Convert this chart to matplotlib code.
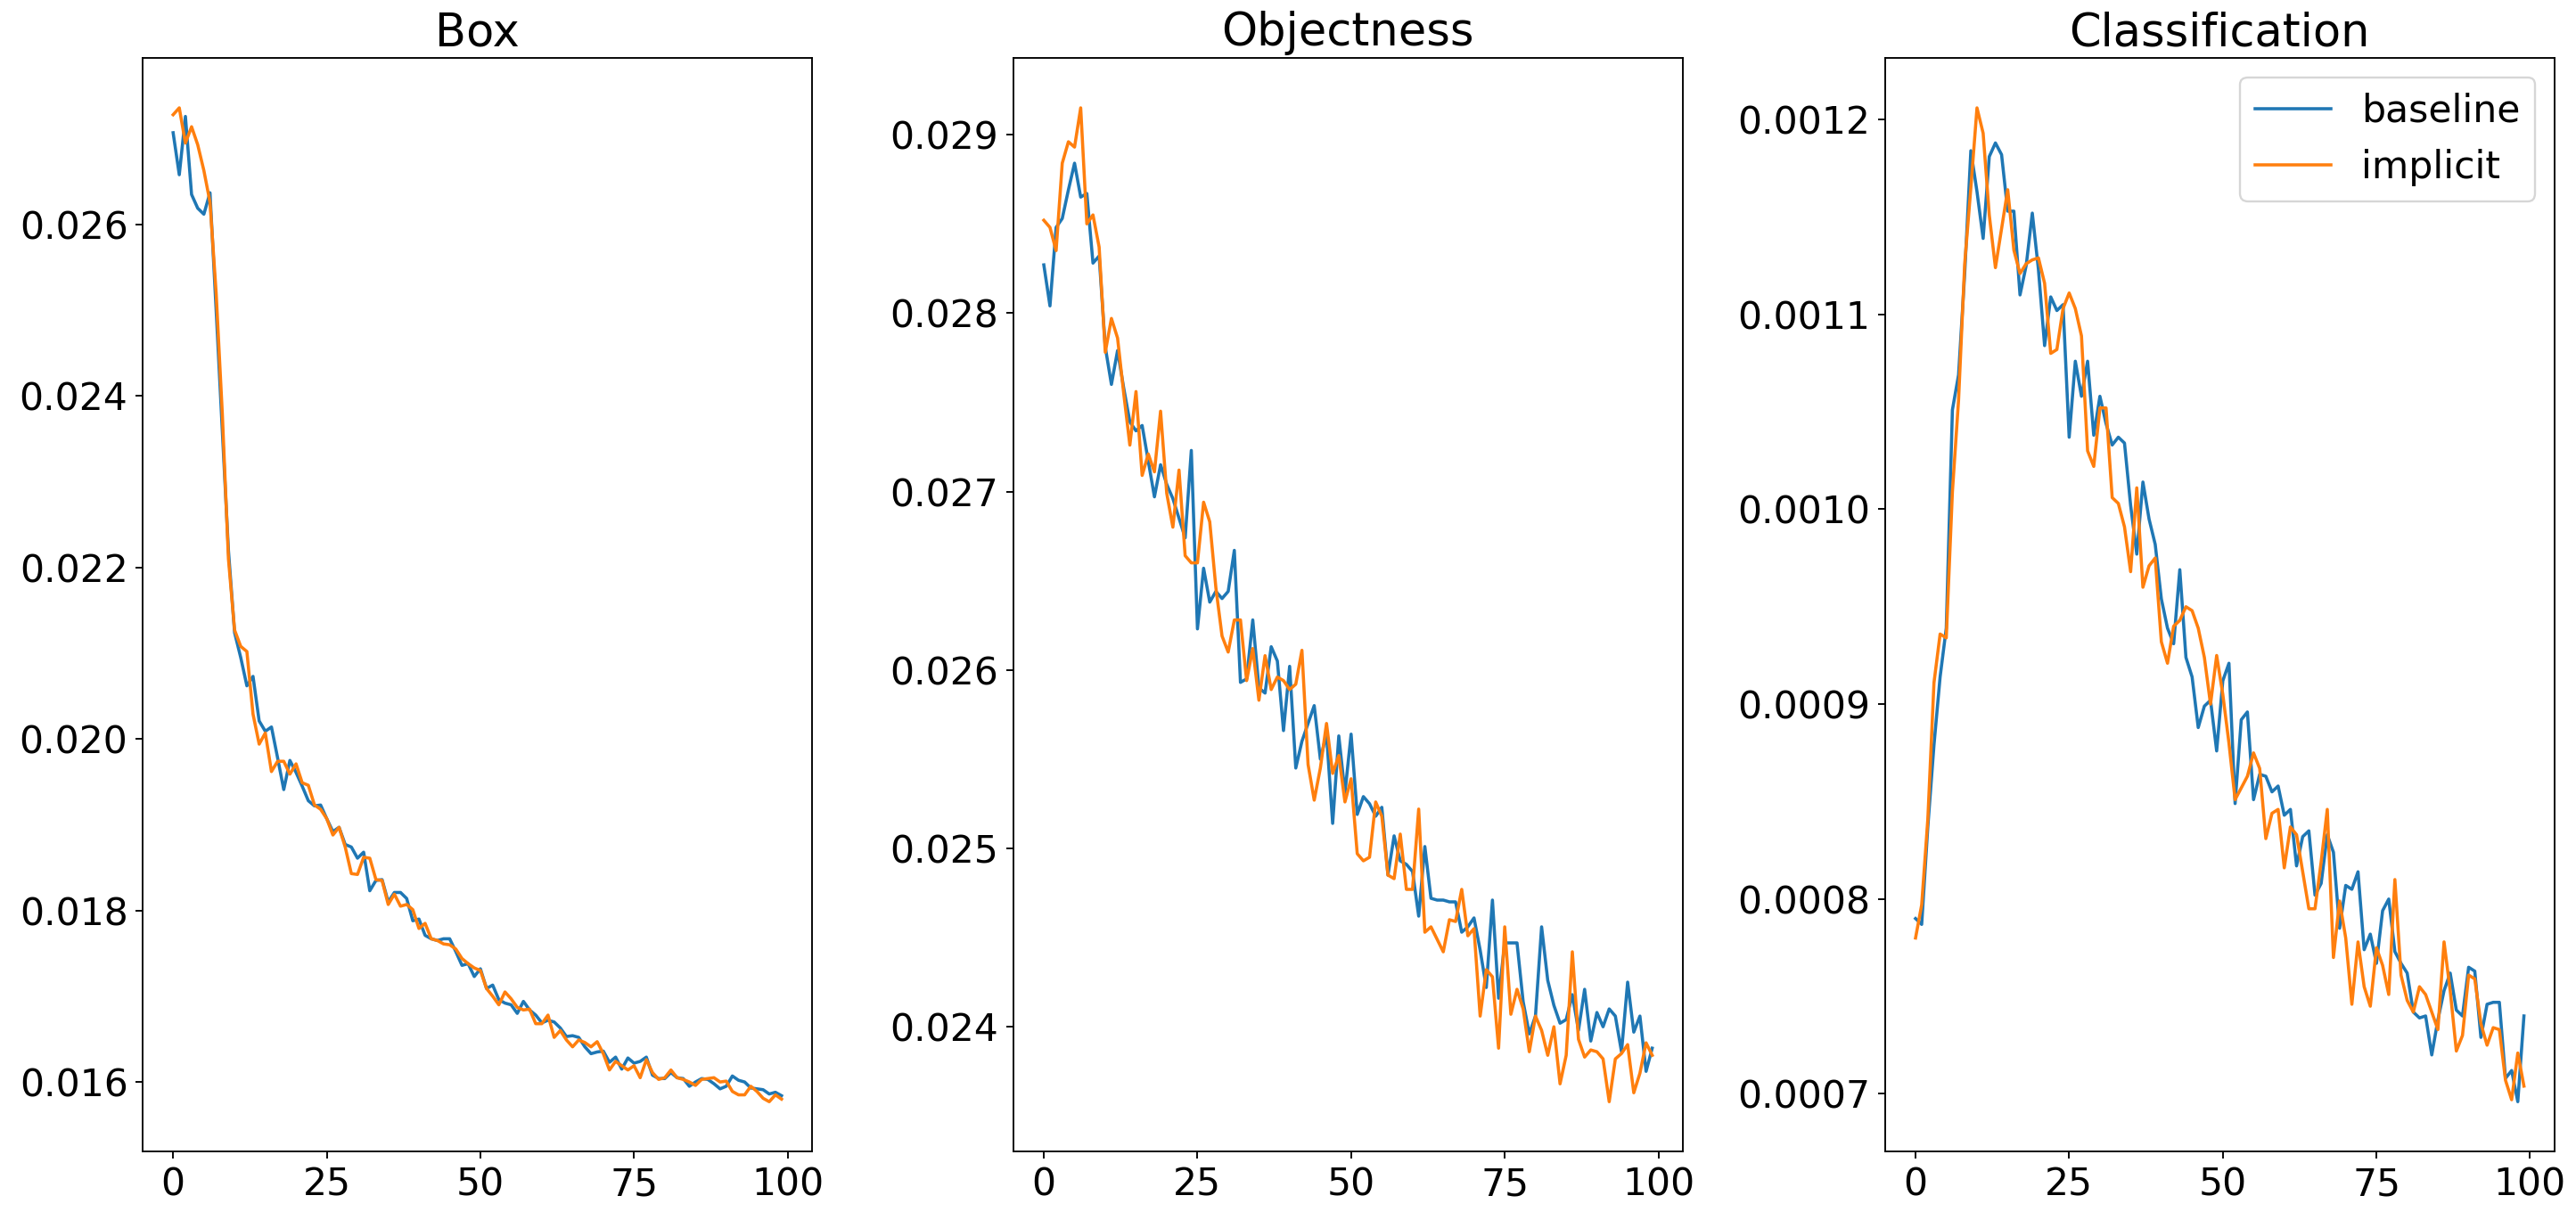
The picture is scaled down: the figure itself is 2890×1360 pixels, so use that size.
import numpy as np
import matplotlib
matplotlib.use("Agg")
import matplotlib.pyplot as plt

epochs = list(range(100))
titles = ["Box", "Objectness", "Classification"]
labels = ["baseline", "implicit"]

box_baseline = [
    0.02707, 0.02658, 0.02726, 0.02635, 0.02619, 0.02612, 0.02637, 0.02500, 0.02360, 0.02220,
    0.02124, 0.02095, 0.02062, 0.02073, 0.02021, 0.02009, 0.02014, 0.01978, 0.01941, 0.01975,
    0.01961, 0.01945, 0.01928, 0.01922, 0.01923, 0.01907, 0.01892, 0.01897, 0.01877, 0.01874,
    0.01861, 0.01868, 0.01823, 0.01835, 0.01836, 0.01810, 0.01821, 0.01821, 0.01814, 0.01788,
    0.01790, 0.01771, 0.01767, 0.01765, 0.01767, 0.01767, 0.01752, 0.01736, 0.01738, 0.01723,
    0.01732, 0.01709, 0.01713, 0.01696, 0.01692, 0.01690, 0.01680, 0.01694, 0.01684, 0.01678,
    0.01669, 0.01672, 0.01670, 0.01663, 0.01653, 0.01654, 0.01652, 0.01641, 0.01633, 0.01635,
    0.01636, 0.01623, 0.01629, 0.01615, 0.01628, 0.01622, 0.01624, 0.01629, 0.01608, 0.01604,
    0.01604, 0.01611, 0.01605, 0.01604, 0.01595, 0.01600, 0.01604, 0.01603, 0.01598, 0.01592,
    0.01595, 0.01607, 0.01602, 0.01600, 0.01593, 0.01592, 0.01591, 0.01586, 0.01588, 0.01584,
]
box_implicit = [
    0.02728, 0.02736, 0.02695, 0.02714, 0.02693, 0.02663, 0.02626, 0.02520, 0.02380, 0.02210,
    0.02127, 0.02108, 0.02102, 0.02029, 0.01994, 0.02007, 0.01962, 0.01974, 0.01974, 0.01959,
    0.01971, 0.01949, 0.01946, 0.01923, 0.01918, 0.01907, 0.01888, 0.01897, 0.01874, 0.01843,
    0.01842, 0.01862, 0.01861, 0.01836, 0.01835, 0.01807, 0.01819, 0.01805, 0.01807, 0.01801,
    0.01779, 0.01785, 0.01767, 0.01765, 0.01761, 0.01760, 0.01755, 0.01744, 0.01738, 0.01733,
    0.01730, 0.01709, 0.01700, 0.01690, 0.01705, 0.01697, 0.01687, 0.01684, 0.01685, 0.01668,
    0.01668, 0.01678, 0.01652, 0.01660, 0.01649, 0.01641, 0.01649, 0.01646, 0.01641, 0.01647,
    0.01633, 0.01614, 0.01624, 0.01619, 0.01614, 0.01619, 0.01605, 0.01626, 0.01611, 0.01603,
    0.01605, 0.01614, 0.01605, 0.01603, 0.01600, 0.01596, 0.01603, 0.01604, 0.01605, 0.01600,
    0.01601, 0.01589, 0.01585, 0.01585, 0.01595, 0.01589, 0.01581, 0.01577, 0.01585, 0.01580,
]

obj_baseline = [
    0.02827, 0.02804, 0.02848, 0.02853, 0.02869, 0.02884, 0.02865, 0.02867, 0.02828, 0.02832,
    0.02781, 0.02760, 0.02779, 0.02758, 0.02739, 0.02734, 0.02737, 0.02717, 0.02697, 0.02715,
    0.02704, 0.02696, 0.02685, 0.02674, 0.02723, 0.02623, 0.02657, 0.02638, 0.02644, 0.02640,
    0.02644, 0.02667, 0.02593, 0.02595, 0.02628, 0.02590, 0.02587, 0.02613, 0.02605, 0.02566,
    0.02602, 0.02545, 0.02560, 0.02570, 0.02580, 0.02550, 0.02564, 0.02514, 0.02563, 0.02531,
    0.02564, 0.02519, 0.02529, 0.02525, 0.02518, 0.02523, 0.02485, 0.02507, 0.02493, 0.02491,
    0.02487, 0.02462, 0.02501, 0.02472, 0.02471, 0.02471, 0.02470, 0.02470, 0.02453, 0.02456,
    0.02461, 0.02443, 0.02422, 0.02471, 0.02416, 0.02447, 0.02447, 0.02447, 0.02414, 0.02396,
    0.02406, 0.02456, 0.02426, 0.02412, 0.02402, 0.02404, 0.02418, 0.02398, 0.02421, 0.02392,
    0.02408, 0.02400, 0.02410, 0.02406, 0.02386, 0.02425, 0.02397, 0.02406, 0.02375, 0.02388,
]
obj_implicit = [
    0.02852, 0.02848, 0.02835, 0.02884, 0.02896, 0.02893, 0.02915, 0.02850, 0.02855, 0.02837,
    0.02778, 0.02797, 0.02786, 0.02755, 0.02726, 0.02756, 0.02709, 0.02721, 0.02711, 0.02745,
    0.02699, 0.02680, 0.02712, 0.02664, 0.02660, 0.02660, 0.02694, 0.02683, 0.02646, 0.02619,
    0.02610, 0.02628, 0.02628, 0.02594, 0.02612, 0.02583, 0.02608, 0.02589, 0.02596, 0.02594,
    0.02589, 0.02592, 0.02611, 0.02547, 0.02527, 0.02545, 0.02570, 0.02542, 0.02552, 0.02526,
    0.02539, 0.02497, 0.02493, 0.02495, 0.02526, 0.02518, 0.02485, 0.02483, 0.02508, 0.02477,
    0.02477, 0.02522, 0.02453, 0.02456, 0.02449, 0.02442, 0.02460, 0.02459, 0.02477, 0.02451,
    0.02455, 0.02406, 0.02432, 0.02428, 0.02388, 0.02456, 0.02407, 0.02421, 0.02410, 0.02386,
    0.02406, 0.02398, 0.02384, 0.02400, 0.02368, 0.02384, 0.02442, 0.02393, 0.02383, 0.02387,
    0.02386, 0.02382, 0.02358, 0.02382, 0.02385, 0.02390, 0.02363, 0.02374, 0.02391, 0.02384,
]

cls_baseline = [
    0.000790, 0.000787, 0.000837, 0.000879, 0.000914, 0.000939, 0.001051, 0.001069, 0.001121, 0.001184,
    0.001163, 0.001139, 0.001181, 0.001188, 0.001182, 0.001153, 0.001153, 0.001110, 0.001125, 0.001152,
    0.001123, 0.001084, 0.001109, 0.001102, 0.001105, 0.001037, 0.001076, 0.001058, 0.001076, 0.001038,
    0.001058, 0.001044, 0.001033, 0.001037, 0.001034, 0.001002, 0.000977, 0.001014, 0.000995, 0.000982,
    0.000954, 0.000939, 0.000931, 0.000969, 0.000924, 0.000914, 0.000888, 0.000899, 0.000902, 0.000876,
    0.000912, 0.000921, 0.000849, 0.000892, 0.000896, 0.000851, 0.000864, 0.000863, 0.000855, 0.000858,
    0.000843, 0.000846, 0.000817, 0.000832, 0.000835, 0.000802, 0.000808, 0.000833, 0.000824, 0.000785,
    0.000807, 0.000805, 0.000814, 0.000774, 0.000782, 0.000767, 0.000794, 0.000800, 0.000773, 0.000767,
    0.000762, 0.000742, 0.000739, 0.000740, 0.000720, 0.000738, 0.000753, 0.000762, 0.000743, 0.000740,
    0.000765, 0.000763, 0.000729, 0.000746, 0.000747, 0.000747, 0.000708, 0.000712, 0.000696, 0.000740,
]
cls_implicit = [
    0.000780, 0.000797, 0.000841, 0.000911, 0.000936, 0.000934, 0.001009, 0.001056, 0.001126, 0.001165,
    0.001206, 0.001193, 0.001151, 0.001124, 0.001144, 0.001164, 0.001133, 0.001121, 0.001126, 0.001128,
    0.001129, 0.001116, 0.001080, 0.001082, 0.001103, 0.001111, 0.001103, 0.001089, 0.001030, 0.001022,
    0.001052, 0.001052, 0.001006, 0.001003, 0.000991, 0.000968, 0.001011, 0.000960, 0.000971, 0.000975,
    0.000932, 0.000921, 0.000940, 0.000943, 0.000950, 0.000948, 0.000939, 0.000924, 0.000900, 0.000925,
    0.000905, 0.000880, 0.000851, 0.000857, 0.000863, 0.000875, 0.000867, 0.000831, 0.000844, 0.000846,
    0.000816, 0.000837, 0.000833, 0.000814, 0.000795, 0.000795, 0.000819, 0.000846, 0.000770, 0.000799,
    0.000780, 0.000746, 0.000778, 0.000755, 0.000745, 0.000775, 0.000766, 0.000751, 0.000810, 0.000761,
    0.000748, 0.000742, 0.000755, 0.000751, 0.000742, 0.000733, 0.000778, 0.000753, 0.000722, 0.000730,
    0.000761, 0.000759, 0.000736, 0.000725, 0.000734, 0.000733, 0.000707, 0.000697, 0.000721, 0.000704,
]

panels = [
    (box_baseline, box_implicit),
    (obj_baseline, obj_implicit),
    (cls_baseline, cls_implicit),
]

plt.rcParams["font.family"] = ["DejaVu Sans"]
plt.rcParams["font.size"] = 18

fig = plt.figure(figsize=(17, 8), dpi=170)
lefts = [0.0554, 0.3934, 0.7318]
width = 0.2598
bottom, top = 0.050, 0.952

axes = []
for i, (title, (base, impl)) in enumerate(zip(titles, panels)):
    ax = fig.add_axes([lefts[i], bottom, width, top - bottom])
    ax.plot(epochs, base, color="#1f77b4", lw=1.5, label=labels[0])
    ax.plot(epochs, impl, color="#ff7f0e", lw=1.5, label=labels[1])
    ax.set_title(title, fontsize=21.6)
    ax.set_xticks([0, 25, 50, 75, 100])
    axes.append(ax)

axes[2].legend(loc="upper right", fontsize=18)

fig.savefig("out.png", dpi=170)
